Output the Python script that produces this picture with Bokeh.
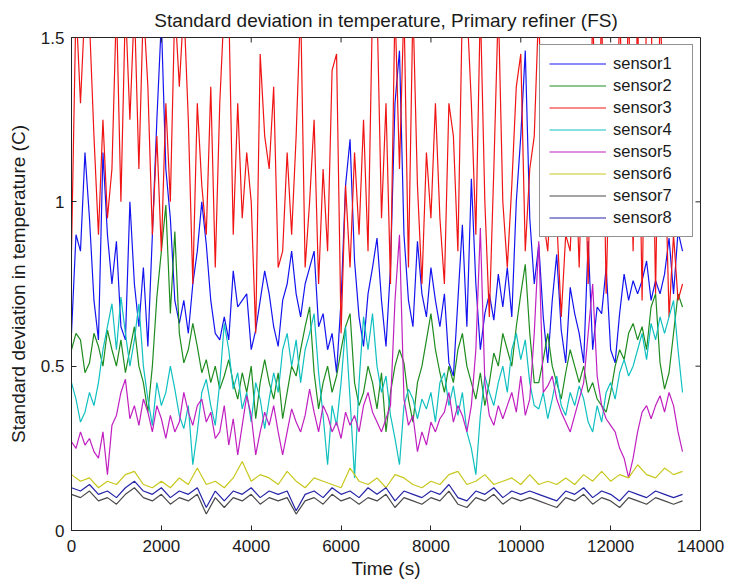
import math
from bokeh.plotting import figure
from bokeh.models import FixedTicker, Legend, LegendItem, Range1d
from bokeh.embed import file_html
from bokeh.resources import INLINE

# ---- data ----
t_fine = list(range(0, 13601, 100))     # 137 samples
t_coarse = list(range(0, 13601, 200))   # 69 samples

sensor1 = [0.6, 0.9, 0.85, 1.15, 0.95, 0.7, 0.58, 1.15, 0.9, 0.75,
           0.88, 0.62, 0.58, 1.0, 0.75, 0.62, 0.8, 0.56, 0.9, 1.25,
           1.55, 1.1, 0.95, 0.7, 0.63, 0.7, 0.6, 0.75, 0.85, 1.0,
           0.87, 0.7, 0.6, 0.58, 0.65, 0.58, 0.79, 0.68, 0.7, 0.72,
           0.55, 0.61, 0.7, 0.79, 0.72, 0.62, 0.56, 0.7, 0.75, 0.85,
           0.72, 0.65, 0.75, 0.8, 0.85, 0.62, 0.66, 0.55, 0.6, 0.48,
           0.7, 1.05, 1.19, 0.82, 0.65, 0.56, 0.72, 0.8, 0.89, 0.7,
           0.56, 0.8, 1.3, 1.46, 0.9, 0.7, 0.62, 0.88, 0.72, 0.65,
           0.8, 0.7, 0.62, 0.72, 0.51, 0.47, 0.7, 0.93, 0.62, 1.07,
           0.75, 0.55, 0.66, 0.72, 0.64, 0.78, 0.68, 0.8, 0.65, 1.0,
           1.2, 1.46, 0.95, 0.75, 0.87, 0.65, 0.51, 0.7, 0.84, 0.61,
           0.51, 0.74, 0.66, 0.6, 0.51, 0.88, 0.55, 0.68, 0.66, 0.8,
           0.55, 0.51, 0.66, 0.78, 0.7, 0.76, 0.72, 0.76, 0.82, 0.7,
           0.76, 0.72, 0.78, 0.89, 0.72, 0.91, 0.85]

sensor2 = [0.55, 0.6, 0.58, 0.48, 0.51, 0.6, 0.56, 0.5, 0.61, 0.55,
           0.5, 0.58, 0.48, 0.55, 0.62, 0.5, 0.45, 0.36, 0.5, 0.71,
           0.85, 0.99, 0.66, 0.91, 0.6, 0.51, 0.55, 0.63, 0.56, 0.48,
           0.52, 0.45, 0.5, 0.43, 0.47, 0.52, 0.45, 0.4, 0.48, 0.42,
           0.5, 0.34, 0.45, 0.52, 0.45, 0.4, 0.48, 0.34, 0.42, 0.5,
           0.47, 0.55, 0.62, 0.68, 0.48, 0.37, 0.45, 0.5, 0.42, 0.47,
           0.55, 0.62, 0.66, 0.45, 0.38, 0.42, 0.5, 0.45, 0.37, 0.48,
           0.3, 0.42, 0.5, 0.55, 0.51, 0.4, 0.33, 0.45, 0.5, 0.58,
           0.66, 0.55, 0.48, 0.42, 0.5, 0.45, 0.55, 0.6, 0.5, 0.45,
           0.4, 0.48, 0.38, 0.45, 0.54, 0.5, 0.6, 0.55, 0.5, 0.62,
           0.72, 0.81, 0.6, 0.45, 0.45, 0.52, 0.6, 0.5, 0.45, 0.4,
           0.48, 0.55, 0.5, 0.45, 0.5, 0.42, 0.45, 0.4, 0.38, 0.36,
           0.42, 0.5, 0.55, 0.52, 0.6, 0.63, 0.58, 0.62, 0.55, 0.68,
           0.72, 0.51, 0.43, 0.48, 0.6, 0.72, 0.68]

sensor3 = [0.85, 1.6, 1.3, 1.6, 1.55, 1.2, 0.9, 1.25, 0.95, 1.1,
           1.6, 1.0, 1.6, 1.25, 1.6, 1.1, 1.6, 1.35, 0.9, 1.2,
           0.85, 1.3, 1.0, 1.6, 1.35, 1.6, 1.25, 0.75, 1.3, 1.05,
           0.9, 1.35, 0.8, 1.3, 1.6, 1.6, 0.9, 1.3, 0.95, 1.15,
           1.0, 0.6, 1.45, 1.2, 1.1, 1.35, 0.8, 0.85, 1.15, 0.9,
           1.2, 1.6, 0.8, 1.0, 1.25, 0.75, 1.1, 0.85, 1.4, 1.45,
           0.6, 1.05, 0.8, 1.15, 0.9, 1.25, 0.85, 1.6, 1.6, 0.95,
           1.3, 0.75, 1.6, 1.1, 1.6, 0.8, 1.6, 1.05, 0.75, 1.15,
           0.95, 1.3, 0.95, 0.75, 1.3, 1.2, 0.85, 1.6, 1.6, 1.3,
           0.9, 1.6, 1.0, 0.65, 1.1, 1.6, 1.0, 0.8, 1.05, 1.35,
           1.45, 0.85, 1.1, 1.2, 1.6, 0.95, 0.85, 1.1, 0.95, 0.65,
           0.9, 0.85, 1.2, 0.8, 1.3, 0.75, 1.6, 1.0, 1.6, 0.72,
           1.3, 0.9, 1.6, 1.1, 1.6, 0.85, 1.6, 0.7, 1.6, 1.6,
           0.72, 1.6, 1.2, 0.65, 0.9, 0.7, 0.75]

sensor4 = [0.45, 0.4, 0.33, 0.36, 0.42, 0.38, 0.45, 0.55, 0.62, 0.69,
           0.55, 0.71, 0.6, 0.5, 0.58, 0.69, 0.5, 0.4, 0.32, 0.45,
           0.38, 0.42, 0.5, 0.43, 0.35, 0.31, 0.38, 0.2, 0.3, 0.42,
           0.46, 0.38, 0.32, 0.45, 0.63, 0.55, 0.43, 0.48, 0.37, 0.42,
           0.33, 0.45, 0.4, 0.31, 0.4, 0.48, 0.42, 0.55, 0.6, 0.5,
           0.58, 0.45, 0.55, 0.6, 0.66, 0.48, 0.35, 0.2, 0.38, 0.32,
           0.45, 0.62, 0.4, 0.16, 0.45, 0.65, 0.55, 0.66, 0.5, 0.42,
           0.47, 0.35, 0.28, 0.2, 0.38, 0.43, 0.4, 0.34, 0.4, 0.37,
           0.42, 0.33, 0.45, 0.48, 0.38, 0.44, 0.35, 0.42, 0.3, 0.25,
           0.17, 0.35, 0.47, 0.42, 0.38, 0.45, 0.5, 0.42, 0.55, 0.6,
           0.52, 0.58, 0.45, 0.38, 0.37, 0.42, 0.34, 0.4, 0.47, 0.38,
           0.35, 0.42, 0.38, 0.44, 0.4, 0.33, 0.3, 0.38, 0.33, 0.42,
           0.45, 0.4, 0.48, 0.52, 0.47, 0.5, 0.55, 0.6, 0.52, 0.63,
           0.58, 0.65, 0.6, 0.65, 0.7, 0.55, 0.42]

sensor5 = [0.27, 0.25, 0.3, 0.26, 0.28, 0.24, 0.22, 0.3, 0.17, 0.32,
           0.35, 0.42, 0.46, 0.34, 0.38, 0.32, 0.4, 0.36, 0.3, 0.38,
           0.34, 0.28, 0.35, 0.3, 0.33, 0.42, 0.36, 0.32, 0.38, 0.4,
           0.33, 0.36, 0.28, 0.3, 0.38, 0.26, 0.34, 0.23, 0.32, 0.41,
           0.35, 0.23, 0.3, 0.36, 0.32, 0.38, 0.3, 0.23, 0.3, 0.37,
           0.33, 0.3, 0.35, 0.43, 0.36, 0.3, 0.38, 0.35, 0.3, 0.33,
           0.28, 0.36, 0.32, 0.35, 0.3, 0.38, 0.42, 0.36, 0.33, 0.3,
           0.34, 0.38, 0.7, 0.9, 0.4, 0.32, 0.35, 0.24, 0.3, 0.26,
           0.33, 0.3, 0.34, 0.36, 0.42, 0.33, 0.38, 0.35, 0.3, 0.38,
           0.55, 0.92, 0.45, 0.35, 0.32, 0.38, 0.34, 0.38, 0.42, 0.36,
           0.47, 0.35, 0.4, 0.6, 0.88, 0.42, 0.44, 0.47, 0.4, 0.36,
           0.33, 0.3, 0.35, 0.4, 0.45, 0.6, 0.75, 0.47, 0.38, 0.34,
           0.32, 0.3, 0.25, 0.22, 0.16, 0.22, 0.3, 0.36, 0.38, 0.34,
           0.38, 0.41, 0.36, 0.42, 0.38, 0.3, 0.24]

sensor6 = [0.17, 0.15, 0.16, 0.13, 0.15, 0.14, 0.17, 0.18, 0.14, 0.13,
           0.15, 0.13, 0.16, 0.14, 0.19, 0.14, 0.15, 0.13, 0.16, 0.21,
           0.15, 0.17, 0.16, 0.14, 0.18, 0.15, 0.13, 0.16, 0.15, 0.14,
           0.13, 0.19, 0.15, 0.14, 0.16, 0.13, 0.17, 0.16, 0.14, 0.13,
           0.15, 0.14, 0.17, 0.18, 0.14, 0.15, 0.17, 0.14, 0.15, 0.16,
           0.14, 0.17, 0.14, 0.15, 0.14, 0.16, 0.14, 0.17, 0.15, 0.18,
           0.15, 0.17, 0.16, 0.2, 0.17, 0.16, 0.19, 0.17, 0.18]

sensor7 = [0.11, 0.1, 0.12, 0.09, 0.1, 0.08, 0.11, 0.13, 0.1, 0.09,
           0.11, 0.08, 0.1, 0.09, 0.11, 0.05, 0.1, 0.07, 0.1, 0.09,
           0.11, 0.08, 0.1, 0.09, 0.1, 0.05, 0.09, 0.1, 0.08, 0.11,
           0.09, 0.1, 0.08, 0.1, 0.09, 0.11, 0.07, 0.1, 0.09, 0.08,
           0.1, 0.09, 0.12, 0.08, 0.07, 0.1, 0.09, 0.11, 0.08, 0.1,
           0.09, 0.1, 0.09, 0.08, 0.07, 0.1, 0.09, 0.11, 0.08, 0.1,
           0.09, 0.07, 0.1, 0.09, 0.08, 0.1, 0.09, 0.08, 0.09]

sensor8 = [0.13, 0.12, 0.14, 0.11, 0.12, 0.1, 0.13, 0.15, 0.12, 0.11,
           0.13, 0.1, 0.12, 0.11, 0.13, 0.07, 0.12, 0.09, 0.12, 0.11,
           0.13, 0.1, 0.12, 0.11, 0.12, 0.06, 0.11, 0.12, 0.1, 0.13,
           0.11, 0.12, 0.1, 0.13, 0.11, 0.13, 0.09, 0.12, 0.11, 0.1,
           0.12, 0.11, 0.14, 0.1, 0.09, 0.12, 0.11, 0.13, 0.1, 0.12,
           0.11, 0.12, 0.11, 0.1, 0.09, 0.12, 0.11, 0.13, 0.1, 0.12,
           0.11, 0.09, 0.12, 0.11, 0.1, 0.12, 0.11, 0.1, 0.11]

names = ["sensor1", "sensor2", "sensor3", "sensor4",
         "sensor5", "sensor6", "sensor7", "sensor8"]
x_ticks = [0, 2000, 4000, 6000, 8000, 10000, 12000, 14000]
y_ticks = [0, 0.5, 1, 1.5]
y_tick_labels = {0: "0", 0.5: "0.5", 1: "1", 1.5: "1.5"}
x_min, x_max = 0, 14000
y_min, y_max = 0, 1.5
title_text = "Standard deviation in temperature, Primary refiner (FS)"

# ---- styling ----
FONT = "Liberation Sans"
INK = "#1a1a1a"
colors = ["#1414f0", "#1e8c1e", "#f01414", "#10c0c0",
          "#c020c0", "#c8c81e", "#4a4a4a", "#2424a8"]
series = [(t_fine, sensor1), (t_fine, sensor2), (t_fine, sensor3), (t_fine, sensor4),
          (t_fine, sensor5), (t_coarse, sensor6), (t_coarse, sensor7), (t_coarse, sensor8)]

p = figure(width=729, height=585, output_backend="svg", toolbar_location=None,
           x_range=Range1d(x_min, x_max), y_range=Range1d(y_min, y_max),
           min_border_left=71, min_border_right=29, min_border_top=37,
           min_border_bottom=55)
p.title.text = title_text
p.title.align = "center"
p.title.text_font = FONT
p.title.text_font_size = "19px"
p.title.text_font_style = "normal"
p.title.text_color = INK
p.title.offset = 0
p.title.standoff = 14

p.background_fill_color = "white"
p.border_fill_color = "white"
p.outline_line_color = "#262626"
p.outline_line_width = 1
p.xgrid.visible = False
p.ygrid.visible = False

renderers = []
for (tt, yy), c in zip(series, colors):
    r = p.line(tt, yy, line_color=c, line_width=1.2)
    renderers.append(r)

for ax in [p.xaxis[0], p.yaxis[0]]:
    ax.major_tick_in = 5
    ax.major_tick_out = 0
    ax.minor_tick_in = 0
    ax.minor_tick_out = 0
    ax.axis_line_color = "#262626"
    ax.major_tick_line_color = "#262626"
    ax.major_label_text_font = FONT
    ax.major_label_text_font_size = "17px"
    ax.major_label_text_color = INK
    ax.axis_label_text_font = FONT
    ax.axis_label_text_font_size = "19px"
    ax.axis_label_text_font_style = "normal"
    ax.axis_label_text_color = INK

p.xaxis[0].ticker = FixedTicker(ticks=x_ticks)
p.yaxis[0].ticker = FixedTicker(ticks=y_ticks)
p.yaxis[0].major_label_overrides = y_tick_labels
p.xaxis[0].axis_label = "Time (s)"
p.yaxis[0].axis_label = "Standard deviation in temperature (C)"
p.xaxis[0].major_label_standoff = 9
p.xaxis[0].axis_label_standoff = 3
p.yaxis[0].major_label_standoff = 7
p.yaxis[0].axis_label_standoff = 9

# inward tick marks on the top and right edges of the box (no labels)
p.ray(x=x_ticks, y=y_max, length=5, length_units="screen", angle=-math.pi / 2,
      line_color="#262626", line_width=1)
p.ray(x=x_max, y=y_ticks, length=5, length_units="screen", angle=math.pi,
      line_color="#262626", line_width=1)

legend = Legend(items=[LegendItem(label=n, renderers=[r]) for n, r in zip(names, renderers)],
                location="top_right")
legend.margin = 7
legend.padding = 9
legend.spacing = 3
legend.label_height = 19
legend.glyph_height = 19
legend.glyph_width = 57
legend.label_width = 70
legend.label_standoff = 7
legend.label_text_font = FONT
legend.label_text_font_size = "16.5px"
legend.label_text_color = INK
legend.border_line_color = "#262626"
legend.border_line_width = 1
legend.background_fill_color = "white"
legend.background_fill_alpha = 1
p.add_layout(legend, "center")

open("out.html", "w").write(file_html(p, INLINE))
